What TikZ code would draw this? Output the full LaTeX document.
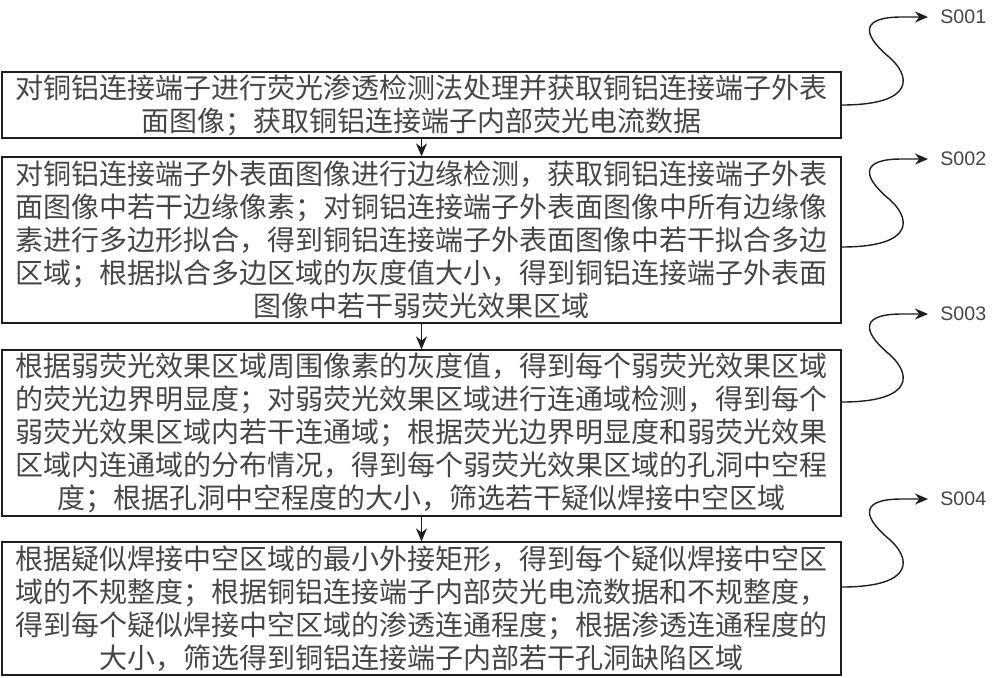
\documentclass[tikz,border=0pt]{standalone}
\usepackage{fontspec}
\setmainfont{Liberation Sans}
\newfontfamily\cjk{Noto Sans CJK SC}
\usepackage{xcolor}
\usepackage{tikz}
\usetikzlibrary{positioning,calc,arrows.meta}
\definecolor{StepInk}{RGB}{30,30,30}
\definecolor{StepText}{RGB}{70,70,70}

\begin{document}
\begin{tikzpicture}[
        x=0.5pt, y=-0.5pt,
        % --- STYLE ---
        stepbox/.style={
            rectangle,
            draw=StepInk,
            line width=0.65pt,
            minimum width=419.5pt,
            inner sep=0pt,
            align=center,
            text=StepText,
            font=\cjk\fontsize{14}{16.5}\selectfont
        },
        flow/.style={
            draw=StepInk,
            line width=0.7pt,
            -{Stealth[length=6.5pt,width=5.5pt]}
        },
        % Style cho nhãn bước
        step_label/.style={
            anchor=west,
            inner sep=0pt,
            text=StepText,
            font=\fontsize{9.8}{11}\selectfont
        }
    ]
        \useasboundingbox (0,0) rectangle (1000,677);

        % --- CÁC BƯỚC ---
        \node[stepbox, minimum height=33pt] (b1) at (421.5,105)
            {对铜铝连接端子进行荧光渗透检测法处理并获取铜铝连接端子外表\\
             面图像；获取铜铝连接端子内部荧光电流数据};
        \node[stepbox, minimum height=83pt] (b2) at (421.5,240)
            {对铜铝连接端子外表面图像进行边缘检测，获取铜铝连接端子外表\\
             面图像中若干边缘像素；对铜铝连接端子外表面图像中所有边缘像\\
             素进行多边形拟合，得到铜铝连接端子外表面图像中若干拟合多边\\
             区域；根据拟合多边区域的灰度值大小，得到铜铝连接端子外表面\\
             图像中若干弱荧光效果区域};
        \node[stepbox, minimum height=83pt] (b3) at (421.5,433)
            {根据弱荧光效果区域周围像素的灰度值，得到每个弱荧光效果区域\\
             的荧光边界明显度；对弱荧光效果区域进行连通域检测，得到每个\\
             弱荧光效果区域内若干连通域；根据荧光边界明显度和弱荧光效果\\
             区域内连通域的分布情况，得到每个弱荧光效果区域的孔洞中空程\\
             度；根据孔洞中空程度的大小，筛选若干疑似焊接中空区域};
        \node[stepbox, minimum height=66.5pt] (b4) at (421.5,608.5)
            {根据疑似焊接中空区域的最小外接矩形，得到每个疑似焊接中空区\\
             域的不规整度；根据铜铝连接端子内部荧光电流数据和不规整度，\\
             得到每个疑似焊接中空区域的渗透连通程度；根据渗透连通程度的\\
             大小，筛选得到铜铝连接端子内部若干孔洞缺陷区域};

        % --- NHÃN BƯỚC ---
        \node[step_label] (s1) at (940,17)  {S001};
        \node[step_label] (s2) at (940,159) {S002};
        \node[step_label] (s3) at (940,314) {S003};
        \node[step_label] (s4) at (940,499) {S004};

        % --- MŨI TÊN ---
        \draw[flow] (b1) -- (b2);
        \draw[flow] (b2) -- (b3);
        \draw[flow] (b3) -- (b4);

        % Đường cong chữ S tới nhãn
        \foreach \i/\dy in {1/0, 2/7, 3/-31, 4/-21.5}
            \draw[flow, shorten >=6pt] ($(b\i.east)+(0,\dy)$)
                .. controls +(75,0) and +(25,20) .. ++(45,-50)
                .. controls +(-25,-22) and +(-40,0) .. ++(15,-38)
                -- (s\i.west);

    \end{tikzpicture}
\end{document}
